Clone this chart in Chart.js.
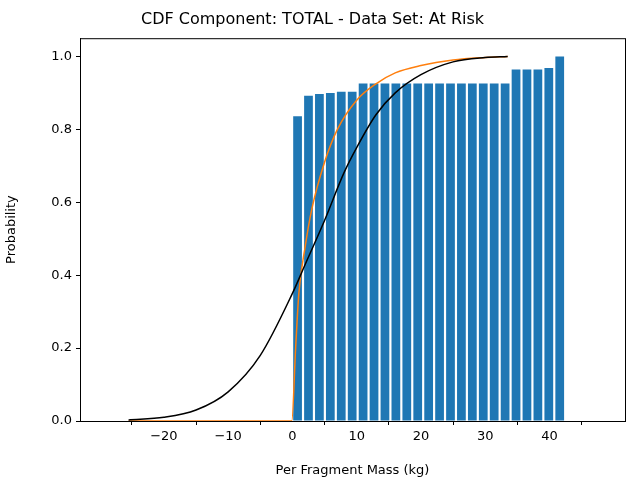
<!DOCTYPE html>
<html>
<head>
<script src="https://cdn.jsdelivr.net/npm/chart.js@4"></script>
<style>
  body { margin: 0; background: #fff; }
  #wrap { width: 640px; height: 480px; }
</style>
</head>
<body>
<div id="wrap"><canvas id="c"></canvas></div>
<script>
const barX = [0.8, 2.5, 4.2, 5.9, 7.6, 9.3, 11.0, 12.7, 14.4, 16.1, 17.8, 19.5, 21.2, 22.9, 24.6, 26.3, 28.0, 29.7, 31.4, 33.1, 34.8, 36.5, 38.2, 39.9, 41.6];
const barY = [0.836, 0.892, 0.897, 0.900, 0.903, 0.903, 0.926, 0.926, 0.926, 0.926, 0.926, 0.926, 0.926, 0.926, 0.926, 0.926, 0.926, 0.926, 0.926, 0.926, 0.964, 0.964, 0.964, 0.968, 1.0];

// Fitted normal CDF (black), estimated points
const normX = [-25.5, -20, -15, -10, -5, 0, 2, 5, 8, 10, 13, 16, 20, 25, 30, 33.5];
const normY = [0.003, 0.01, 0.03, 0.08, 0.18, 0.35, 0.43, 0.55, 0.68, 0.75, 0.84, 0.9, 0.95, 0.985, 0.997, 1.0];

// Fitted lognormal-ish CDF (orange), estimated points
const logX = [-25.5, -0.1, 0.5, 1, 2, 3, 5, 7, 10, 13, 16, 20, 25, 30, 33.5];
const logY = [0, 0, 0.2, 0.35, 0.48, 0.58, 0.71, 0.8, 0.88, 0.925, 0.955, 0.975, 0.99, 0.997, 1.0];

const xTicks = [-20, -10, 0, 10, 20, 30, 40];
const yTicks = [0, 0.2, 0.4, 0.6, 0.8, 1.0];

const pts = (xs, ys) => xs.map((x, i) => ({ x: x, y: ys[i] }));
const font = { family: 'DejaVu Sans', size: 13 };

// full frame around plot area
const frame = {
    id: 'frame',
    afterDraw(chart) {
        const a = chart.chartArea, ctx = chart.ctx;
        ctx.save();
        ctx.strokeStyle = '#000';
        ctx.lineWidth = 1;
        ctx.strokeRect(a.left + 0.5, a.top + 0.5, a.right - a.left, a.bottom - a.top);
        ctx.restore();
    }
};

new Chart(document.getElementById('c'), {
    data: {
        datasets: [
            {
                type: 'line',
                data: pts(normX, normY),
                borderColor: '#000000',
                borderWidth: 1.5,
                pointRadius: 0,
                cubicInterpolationMode: 'monotone',
                order: 0
            },
            {
                type: 'line',
                data: pts(logX, logY),
                borderColor: '#ff7f0e',
                borderWidth: 1.5,
                pointRadius: 0,
                cubicInterpolationMode: 'monotone',
                order: 0
            },
            {
                type: 'bar',
                data: pts(barX, barY),
                backgroundColor: '#1f77b4',
                categoryPercentage: 1,
                barPercentage: 0.8,
                order: 1
            }
        ]
    },
    options: {
        responsive: true,
        maintainAspectRatio: false,
        animation: false,
        layout: { padding: { right: 15, top: 0, left: 0, bottom: 0 } },
        plugins: {
            legend: { display: false },
            title: {
                display: true,
                text: 'CDF Component: TOTAL - Data Set: At Risk',
                font: { family: 'DejaVu Sans', size: 16, weight: 'normal' },
                color: '#000',
                padding: { top: 10, bottom: 9 }
            }
        },
        scales: {
            x: {
                type: 'linear',
                min: -27,
                max: 45.7,
                afterBuildTicks: axis => { axis.ticks = xTicks.map(v => ({ value: v })); },
                afterFit: axis => { axis.height = 59; },
                grid: { drawOnChartArea: false, drawTicks: true, tickLength: 4, color: '#000' },
                border: { color: '#000' },
                ticks: { color: '#000', font: font, padding: 4, callback: v => String(v).replace('-', '\u2212') },
                title: { display: true, text: 'Per Fragment Mass (kg)', color: '#000', font: font, padding: 2 }
            },
            y: {
                min: 0,
                max: 1.05,
                afterBuildTicks: axis => { axis.ticks = yTicks.map(v => ({ value: v })); },
                afterFit: axis => { axis.width = 80; },
                grid: { drawOnChartArea: false, drawTicks: true, tickLength: 4, color: '#000' },
                border: { color: '#000' },
                ticks: { color: '#000', font: font, padding: 4, callback: v => v.toFixed(1) },
                title: { display: true, text: 'Probability', color: '#000', font: font }
            }
        }
    },
    plugins: [frame]
});
</script>
</body>
</html>
